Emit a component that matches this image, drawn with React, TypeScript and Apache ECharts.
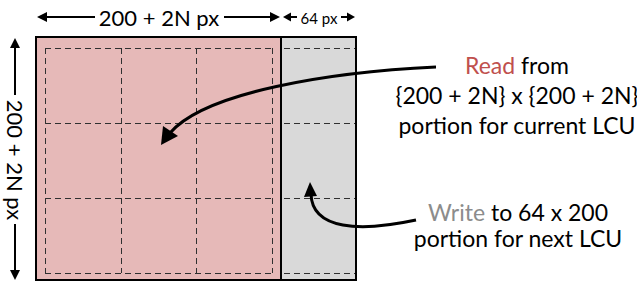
import React, { useEffect, useRef } from "react";
import * as echarts from "echarts";

const dimLabels = ["200 + 2N px", "64 px"];
const readLines = ["{r|Read} from", "{200 + 2N} x {200 + 2N}", "portion for current LCU"];
const writeLines = ["{w|Write} to 64 x 200", "portion for next LCU"];
const gridCols = 3;
const gridRows = 3;

const FONT = "Lato";

function arrowHead(tipX: number, tipY: number, dir: "l" | "r" | "u" | "d", len: number, half: number) {
  let pts: number[][] = [];
  if (dir === "l") pts = [[tipX, tipY], [tipX + len, tipY - half], [tipX + len, tipY + half]];
  if (dir === "r") pts = [[tipX, tipY], [tipX - len, tipY - half], [tipX - len, tipY + half]];
  if (dir === "u") pts = [[tipX, tipY], [tipX - half, tipY + len], [tipX + half, tipY + len]];
  if (dir === "d") pts = [[tipX, tipY], [tipX - half, tipY - len], [tipX + half, tipY - len]];
  return { type: "polygon", shape: { points: pts }, style: { fill: "#000" }, silent: true };
}

function hline(x1: number, x2: number, y: number, w = 2, dash?: number[], color = "#000") {
  return { type: "line", shape: { x1, y1: y, x2, y2: y }, style: { stroke: color, lineWidth: w, lineDash: dash }, silent: true };
}
function vline(x: number, y1: number, y2: number, w = 2, dash?: number[], color = "#000") {
  return { type: "line", shape: { x1: x, y1, x2: x, y2 }, style: { stroke: color, lineWidth: w, lineDash: dash }, silent: true };
}
const px = (v: number) => Math.round(v) + 0.5;

export default function App() {
  const ref = useRef<HTMLDivElement>(null);
  useEffect(() => {
    if (!ref.current) return;
    const chart = echarts.init(ref.current, undefined, { renderer: "svg" });

    const boxL = 36, boxT = 37, boxR = 356, boxB = 280, divX = 281;
    const inL = 45, inT = 48, inR = 272, inB = 273;
    const dash = [6, 4];
    const dashColor = "#303030";
    const els: any[] = [];

    // fills
    els.push({ type: "rect", shape: { x: boxL, y: boxT, width: divX - boxL, height: boxB - boxT }, style: { fill: "#e6b9b8" }, silent: true });
    els.push({ type: "rect", shape: { x: divX, y: boxT, width: boxR - divX, height: boxB - boxT }, style: { fill: "#d9d9d9" }, silent: true });

    // dashed grid in pink
    const cw = (inR - inL) / gridCols;
    const rh = (inB - inT) / gridRows;
    for (let i = 0; i <= gridCols; i++) els.push(vline(px(inL + i * cw), inT, inB, 1, dash, dashColor));
    for (let j = 0; j <= gridRows; j++) els.push(hline(inL, inR, px(inT + j * rh), 1, dash, dashColor));
    // dashed lines in grey
    for (let j = 0; j <= gridRows; j++) els.push(hline(divX + 3, boxR, px(inT + j * rh), 1, dash, dashColor));

    // outer box & divider
    els.push({ type: "rect", shape: { x: boxL, y: boxT, width: boxR - boxL, height: boxB - boxT }, style: { fill: "none", stroke: "#000", lineWidth: 2 }, silent: true });
    els.push(vline(divX, boxT, boxB, 2));

    // top dimension
    const ty = 17;
    els.push(hline(44, 95, ty, 2));
    els.push(arrowHead(37, ty, "l", 10, 5));
    els.push(hline(224, 272, ty, 2));
    els.push(arrowHead(280, ty, "r", 10, 5));
    els.push({ type: "text", x: 159, y: ty, style: { text: dimLabels[0], font: `22px ${FONT}`, fill: "#000", align: "center", verticalAlign: "middle" }, silent: true });
    els.push(arrowHead(283, ty, "l", 8, 4.5));
    els.push(hline(289, 297, ty, 2));
    els.push({ type: "text", x: 319, y: ty + 1, style: { text: dimLabels[1], font: `15px ${FONT}`, fill: "#000", align: "center", verticalAlign: "middle" }, silent: true });
    els.push(hline(341, 348, ty, 2));
    els.push(arrowHead(355, ty, "r", 8, 4.5));

    // left dimension
    const lx = 15;
    els.push(vline(lx, 46, 95, 2));
    els.push(arrowHead(lx, 38, "u", 10, 5));
    els.push(vline(lx, 224, 272, 2));
    els.push(arrowHead(lx, 280, "d", 10, 5));
    els.push({ type: "text", x: lx, y: 160, rotation: -Math.PI / 2, style: { text: dimLabels[0], font: `22px ${FONT}`, fill: "#000", align: "center", verticalAlign: "middle" }, silent: true });

    // read text
    const tf = `23px ${FONT}`;
    const readY = [65, 95, 125];
    readLines.forEach((t, i) => {
      els.push({ type: "text", x: 517, y: readY[i], style: { text: t, font: tf, fill: "#000", align: "center", verticalAlign: "middle", rich: { r: { fill: "#c0504d", font: tf } } }, silent: true });
    });
    const writeY = [212, 238];
    writeLines.forEach((t, i) => {
      els.push({ type: "text", x: 518, y: writeY[i], style: { text: t, font: tf, fill: "#000", align: "center", verticalAlign: "middle", rich: { w: { fill: "#8c8c8c", font: tf } } }, silent: true });
    });

    // read curved arrow
    els.push({ type: "bezierCurve", shape: { x1: 436, y1: 67, cpx1: 330, cpy1: 72, cpx2: 205, cpy2: 92, x2: 170, y2: 133 }, style: { stroke: "#000", lineWidth: 3, fill: "none" }, silent: true });
    els.push({ type: "polygon", shape: { points: [[161, 145], [163, 126], [178, 136]] }, style: { fill: "#000" }, silent: true });

    // write curved arrow
    els.push({ type: "bezierCurve", shape: { x1: 416, y1: 220, cpx1: 360, cpy1: 232, cpx2: 312, cpy2: 230, x2: 311, y2: 194 }, style: { stroke: "#000", lineWidth: 3, fill: "none" }, silent: true });
    els.push({ type: "polygon", shape: { points: [[310, 182], [304, 197], [317, 196]] }, style: { fill: "#000" }, silent: true });

    chart.setOption({ animation: false, backgroundColor: "#fff", graphic: { elements: els } });
    return () => chart.dispose();
  }, []);
  return <div ref={ref} style={{ width: 637, height: 285, position: "absolute", left: 0, top: 0 }} />;
}
